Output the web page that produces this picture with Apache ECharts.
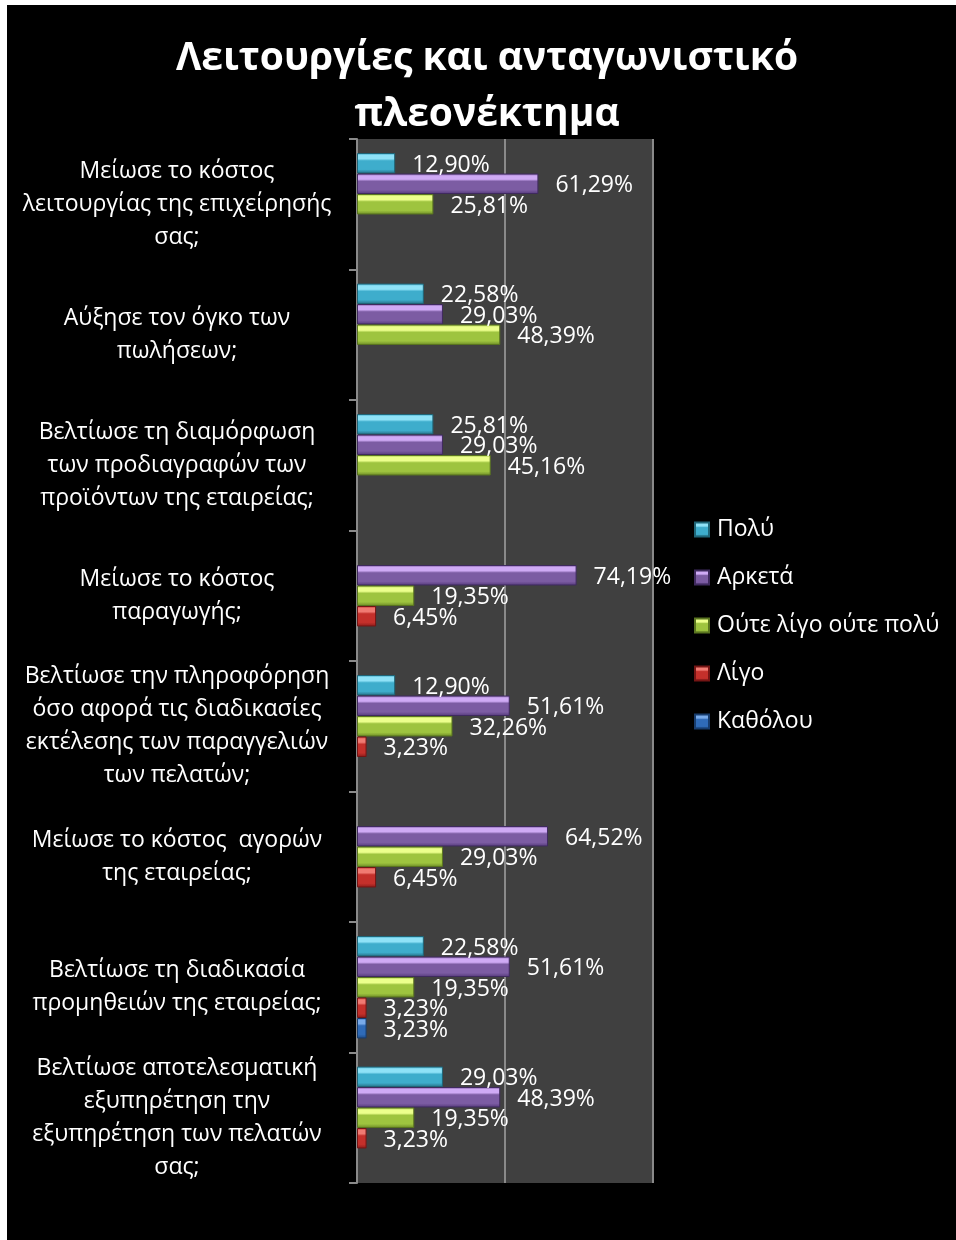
<!DOCTYPE html>
<html>
<head>
<meta charset="utf-8">
<script src="https://cdn.jsdelivr.net/npm/echarts@6/dist/echarts.min.js"></script>
<style>
  html, body { margin: 0; padding: 0; background: #ffffff; }
  #chart { width: 956px; height: 1240px; }
</style>
</head>
<body>
<div id="chart"></div>
<script>
// Survey questions (one bar group each), top to bottom
const categories = [
  'Μείωσε το κόστος\nλειτουργίας της επιχείρησής\nσας;',
  'Αύξησε τον όγκο των\nπωλήσεων;',
  'Βελτίωσε τη διαμόρφωση\nτων προδιαγραφών των\nπροϊόντων της εταιρείας;',
  'Μείωσε το κόστος\nπαραγωγής;',
  'Βελτίωσε την πληροφόρηση\nόσο αφορά τις διαδικασίες\nεκτέλεσης των παραγγελιών\nτων πελατών;',
  'Μείωσε το κόστος  αγορών\nτης εταιρείας;',
  'Βελτίωσε τη διαδικασία\nπρομηθειών της εταιρείας;',
  'Βελτίωσε αποτελεσματική\nεξυπηρέτηση την\nεξυπηρέτηση των πελατών\nσας;'
];

// Answer scale
const seriesNames = ['Πολύ', 'Αρκετά', 'Ούτε λίγο ούτε πολύ', 'Λίγο', 'Καθόλου'];

// Percentages per answer (null = no responses)
const poly     = [12.90, 22.58, 25.81, null, 12.90, null, 22.58, 29.03];
const arketa   = [61.29, 29.03, 29.03, 74.19, 51.61, 64.52, 51.61, 48.39];
const oute     = [25.81, 48.39, 45.16, 19.35, 32.26, 29.03, 19.35, 19.35];
const ligo     = [null, null, null, 6.45, 3.23, 6.45, 3.23, 3.23];
const katholou = [null, null, null, null, null, null, 3.23, null];

const seriesData = [poly, arketa, oute, ligo, katholou];

const xTicks = [0, 50, 100];

// Bevelled bar shading: light top edge, base body, dark bottom edge
const palette = [
  { light: '#8fe2f7', base: '#3eadcc', dark: '#256f84', border: '#1f6577' },
  { light: '#cfaaf5', base: '#7c5ca3', dark: '#54397a', border: '#3f2a5e' },
  { light: '#ecff8c', base: '#9ec43f', dark: '#6c8a26', border: '#5a7520' },
  { light: '#f07a72', base: '#c4302b', dark: '#8b1c1a', border: '#751514' },
  { light: '#78aaea', base: '#2f6bb8', dark: '#1d4a85', border: '#173c6d' }
];

function bevel(p) {
  return new echarts.graphic.LinearGradient(0, 0, 0, 1, [
    { offset: 0, color: p.base },
    { offset: 0.12, color: p.light },
    { offset: 0.28, color: p.light },
    { offset: 0.38, color: p.base },
    { offset: 0.8, color: p.base },
    { offset: 1, color: p.dark }
  ]);
}

function fmt(v) {
  return v.toFixed(2).replace('.', ',') + '%';
}

const chart = echarts.init(document.getElementById('chart'), null, { renderer: 'canvas' });

const series = seriesNames.map((name, i) => ({
  name: name,
  type: 'bar',
  data: seriesData[i],
  barGap: '0%',
  barCategoryGap: '21.5%',
  itemStyle: {
    color: bevel(palette[i]),
    borderColor: palette[i].border,
    borderWidth: 1
  },
  label: {
    show: true,
    position: 'right',
    distance: 17,
    offset: [0, 2],
    color: '#ffffff',
    fontFamily: 'Open Sans',
    fontSize: 23,
    formatter: (p) => (p.value == null ? '' : fmt(p.value))
  },
  emphasis: { disabled: true }
}));

chart.setOption({
  backgroundColor: '#ffffff',
  animation: false,
  graphic: [
    {
      type: 'rect',
      z: -100,
      silent: true,
      shape: { x: 7, y: 5, width: 949, height: 1235 },
      style: { fill: '#000000' }
    },
    {
      type: 'text',
      z: 10,
      silent: true,
      x: 487,
      y: 87,
      style: {
        text: 'Λειτουργίες και ανταγωνιστικό\nπλεονέκτημα',
        fill: '#ffffff',
        font: 'bold 39px "Open Sans"',
        textAlign: 'center',
        textVerticalAlign: 'middle',
        lineHeight: 56
      }
    }
  ],
  legend: {
    orient: 'vertical',
    left: 694,
    top: 518,
    padding: 0,
    itemWidth: 14,
    itemHeight: 14,
    itemGap: 25,
    icon: 'rect',
    textStyle: {
      color: '#ffffff',
      fontFamily: 'Open Sans',
      fontSize: 23,
      lineHeight: 23,
      padding: [0, 0, 0, 3]
    },
    data: seriesNames
  },
  grid: {
    left: 357,
    right: 303,
    top: 139,
    bottom: 57,
    show: true,
    backgroundColor: '#404040',
    borderWidth: 0,
    containLabel: false
  },
  xAxis: {
    type: 'value',
    min: xTicks[0],
    max: xTicks[xTicks.length - 1],
    interval: xTicks[1] - xTicks[0],
    axisLine: { show: false },
    axisTick: { show: false },
    axisLabel: { show: false },
    splitLine: { show: true, lineStyle: { color: '#8a8a8a', width: 2 } }
  },
  yAxis: {
    type: 'category',
    inverse: true,
    data: categories,
    axisLine: { show: true, lineStyle: { color: '#8a8a8a', width: 2 } },
    axisTick: { show: true, length: 8, lineStyle: { color: '#8a8a8a', width: 2 } },
    axisLabel: {
      color: '#ffffff',
      fontFamily: 'Open Sans',
      fontSize: 23,
      lineHeight: 33,
      align: 'center',
      margin: 180
    }
  },
  series: series
});
</script>
</body>
</html>
